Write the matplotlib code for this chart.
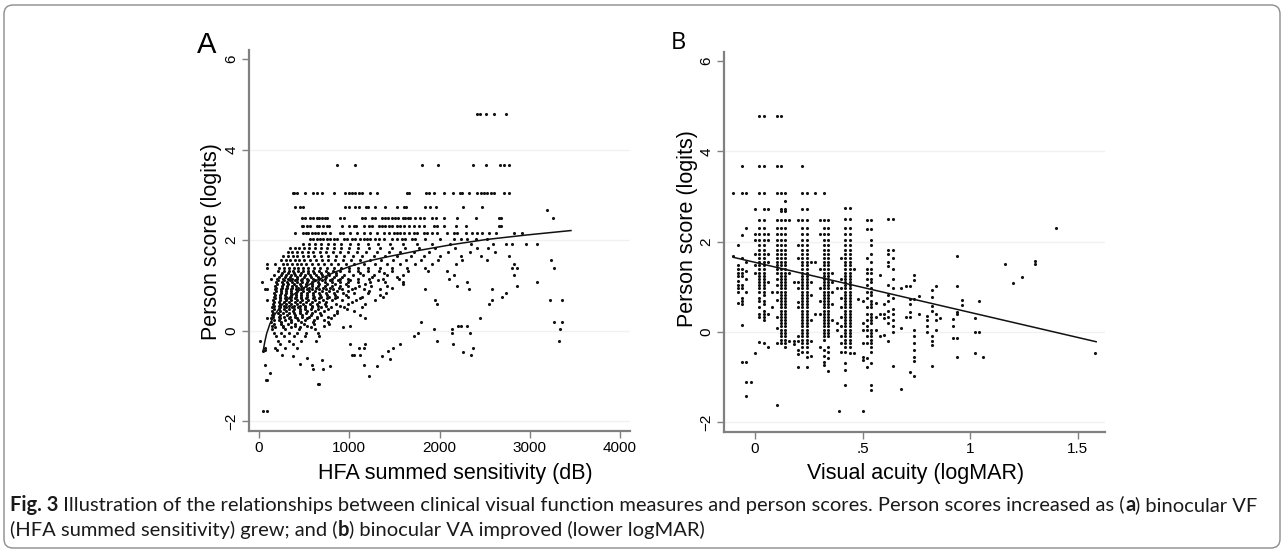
import matplotlib
matplotlib.use("Agg")
import matplotlib.pyplot as plt
from matplotlib.patches import FancyBboxPatch
from matplotlib.transforms import IdentityTransform
from matplotlib.font_manager import FontProperties

W, H = 1285, 552

# ---- panel A: HFA summed sensitivity vs person score ----
# person scores come in discrete levels, each row holds the HFA values seen at that level
hfa_levels = [4.78, 3.65, 3.05, 2.72, 2.48, 2.30, 2.16, 2.03, 1.92, 1.82, 1.73, 1.64, 1.55,
              1.47, 1.39, 1.31, 1.23, 1.15, 1.07, 0.99, 0.91, 0.83, 0.75, 0.67, 0.59, 0.51,
              0.43, 0.35, 0.27, 0.19, 0.11, 0.03, -0.05, -0.13, -0.22, -0.30, -0.38,
              1.27, 1.19, 1.11, 1.03, 0.95, 0.87, 0.79, 0.71, 0.63, 0.55, 0.47, 0.39, 0.31,
              0.23, 0.15, 0.07]
hfa_rows = [
    [2410, 2450, 2520, 2600, 2740],
    [870, 1060, 1810, 1985, 2375, 2510, 2670, 2715, 2770],
    [374, 392, 419, 511, 604, 641, 696, 826, 956, 993, 1030, 1067, 1104, 1141, 1233, 1307,
     1641, 1659, 1852, 1881, 1937, 2055, 2152, 2222, 2252, 2326, 2418, 2456, 2493, 2530,
     2567, 2604, 2715, 2770],
    [400, 456, 485, 956, 993, 1067, 1104, 1189, 1204, 1289, 1400, 1530, 1604, 1630, 1844,
     1900, 1963, 2259, 2474],
    [474, 511, 567, 596, 641, 670, 696, 733, 759, 900, 937, 1141, 1178, 1252, 1289, 1363,
     1400, 1430, 1474, 1511, 1541, 1593, 1622, 1652, 1678, 1733, 1789, 1826, 1919, 1956,
     2048, 2196, 2400, 2659, 2678],
    [474, 493, 530, 567, 641, 670, 707, 752, 778, 919, 993, 1048, 1078, 1159, 1215, 1252,
     1326, 1363, 1400, 1437, 1474, 1530, 1567, 1604, 1659, 1715, 1770, 1826, 1937, 1974,
     2048, 2178, 2289, 2659, 2678],
    [400, 493, 522, 548, 585, 622, 659, 696, 733, 789, 900, 930, 1011, 1085, 1159, 1233,
     1307, 1381, 1437, 1493, 1530, 1567, 1604, 1659, 1715, 1752, 1826, 1863, 1919, 1974,
     2085, 2159, 2196, 2289, 2363, 2419, 2474, 2548, 2622, 2826, 2919],
    [567, 604, 641, 678, 715, 752, 789, 826, 863, 937, 974, 1030, 1067, 1122, 1159, 1196,
     1233, 1289, 1326, 1381, 1474, 1530, 1585, 1622, 1696, 1733, 1844, 2011, 2159, 2233,
     2307, 2400, 2530],
    [493, 556, 617, 690, 761, 836, 913, 1004, 1098, 1206, 1318, 1451, 1598, 1748, 1915,
     2121, 2349, 2590, 2733, 2807, 2956, 3085],
    [344, 398, 445, 502, 556, 622, 689, 758, 833, 911, 1003, 1101, 1214, 1340, 1472, 1617,
     1773, 1953, 2177, 2418, 2533],
    [320, 367, 421, 478, 538, 603, 672, 741, 818, 897, 984, 1081, 1189, 1311, 1437, 1568,
     1721, 1886, 2093, 2338, 2612],
    [270, 318, 372, 425, 489, 548, 615, 690, 768, 852, 940, 1040, 1145, 1270, 1400, 1530,
     1680, 1830, 2010, 2240, 2460, 2770],
    [244, 297, 349, 398, 449, 503, 563, 627, 697, 770, 847, 930, 1019, 1121, 1229, 1352,
     1488, 1630, 1796, 1983, 2246, 2530, 3233],
    [85, 180, 262, 316, 366, 417, 467, 522, 584, 651, 723, 797, 878, 962, 1058, 1166, 1284,
     1414, 1563, 1726, 1920, 2180, 2826],
    [93, 226, 283, 335, 386, 436, 490, 545, 609, 676, 749, 826, 908, 999, 1100, 1210, 1337,
     1479, 1642, 1838, 2807, 2863, 3270],
    [216, 277, 330, 381, 430, 485, 540, 602, 669, 741, 818, 902, 993, 1094, 1207, 1335,
     1477, 1652, 1870, 2085],
    [165, 240, 297, 350, 401, 453, 508, 566, 630, 700, 774, 855, 943, 1041, 1148, 1273,
     1421, 1596, 2159, 2826],
    [130, 198, 263, 318, 370, 422, 476, 533, 594, 661, 734, 812, 897, 991, 1097, 1222, 1370,
     1548, 2104],
    [30, 190, 256, 313, 366, 419, 472, 529, 590, 658, 731, 809, 894, 988, 1098, 1228, 1392,
     1592, 2307, 3085],
    [182, 251, 307, 361, 414, 468, 525, 586, 654, 727, 806, 893, 990, 1104, 1245, 1424,
     2196, 2863],
    [67, 93, 175, 246, 303, 358, 412, 468, 527, 591, 663, 739, 824, 918, 1027, 1161, 1336,
     1844, 2326, 2585],
    [168, 241, 300, 356, 410, 467, 528, 594, 667, 746, 834, 933, 1051, 1204, 1412, 2733],
    [162, 237, 297, 355, 412, 471, 535, 605, 684, 771, 870, 990, 1147, 1369, 2696],
    [85, 157, 234, 296, 357, 417, 479, 547, 623, 708, 807, 924, 1075, 1284, 1948, 2585,
     3222, 3352],
    [152, 231, 296, 359, 423, 490, 562, 643, 737, 849, 990, 1180, 1974, 2548],
    [147, 230, 298, 366, 435, 508, 589, 682, 795, 940, 1142],
    [143, 229, 302, 375, 450, 530, 620, 726, 861, 1050],
    [140, 231, 312, 394, 480, 575, 687, 829, 1122],
    [85, 138, 237, 329, 424, 527, 646, 795, 1178, 2444],
    [137, 248, 355, 468, 597, 760, 1800, 3270, 3352],
    [140, 268, 395, 537, 716, 1011, 2207, 2241, 2300],
    [150, 292, 442, 622, 1937, 2133, 3337],
    [165, 246, 330, 420, 523, 651, 1763, 2141, 2333],
    [186, 283, 390, 510, 667, 1715],
    [11, 215, 330, 470, 633, 1967, 3322],
    [230, 380, 1011, 1178, 1559, 2144],
    [63, 178, 289, 420, 1104, 1159, 1485, 2370],
    # in-between levels of the lower cloud
    [252, 318, 391, 462, 538, 611, 689, 770, 858, 1120, 1390],
    [221, 286, 347, 419, 497, 575, 655, 744, 832, 925, 1250, 1530],
    [208, 275, 339, 405, 470, 541, 617, 703, 786, 877, 1010, 1320],
    [199, 262, 325, 390, 452, 519, 592, 668, 752, 845, 960, 1180, 1600],
    [193, 251, 308, 367, 428, 489, 556, 627, 705, 790, 883, 1065, 1470],
    [186, 243, 302, 359, 421, 483, 550, 619, 695, 777, 870, 985, 1215],
    [179, 236, 292, 350, 409, 470, 535, 603, 677, 758, 846, 960, 1340],
    [174, 230, 285, 343, 401, 462, 525, 594, 668, 749, 838, 1120],
    [170, 226, 281, 338, 395, 456, 520, 588, 661, 741, 1030],
    [167, 221, 277, 334, 392, 452, 515, 583, 657, 738, 900],
    [164, 218, 274, 331, 389, 450, 513, 580, 654, 760, 980],
    [161, 216, 272, 330, 390, 452, 518, 590, 672, 870],
    [160, 217, 277, 340, 404, 474, 551, 640, 760],
    [162, 224, 290, 358, 431, 512, 605, 720],
    [170, 243, 321, 405, 497, 605, 780],
    [180, 265, 358, 460, 580, 930],
]
hfa_extra_x = [41, 63, 196, 252, 381, 530, 456, 585, 604, 696, 715, 789, 1030, 1048, 1122,
               1159, 1215, 1307, 1363, 1426, 1456, 2259, 2352, 67, 122, 80, 93, 48, 93, 650,
               668, 3196, 3252]
hfa_extra_y = [-0.46, -0.44, -0.42, -0.55, -0.57, -0.60, -0.74, -0.76, -0.85, -0.66, -0.85,
               -0.79, -0.55, -0.55, -0.55, -0.77, -1.01, -0.79, -0.57, -0.46, -0.63, -0.48,
               -0.54, -0.77, -0.94, -1.10, -1.10, -1.77, -1.77, -1.18, -1.18, 2.66, 2.48]
hfa_fit_x = [48, 65, 85, 122, 178, 252, 344, 456, 641, 826, 1011, 1196, 1400, 1770, 2141,
             2511, 2956, 3456]
hfa_fit_y = [-0.44, -0.25, -0.07, 0.15, 0.36, 0.56, 0.74, 0.90, 1.11, 1.28, 1.42, 1.53,
             1.62, 1.77, 1.90, 2.01, 2.11, 2.21]

# ---- panel B: visual acuity vs person score ----
# logMAR values are discrete, each column holds the person scores seen at that acuity
va_columns = [-0.10, -0.08, -0.06, -0.04, -0.02, 0.00, 0.02, 0.04, 0.06, 0.08, 0.10, 0.12,
              0.14, 0.16, 0.18, 0.20, 0.22, 0.24, 0.26, 0.28, 0.30, 0.32, 0.34, 0.36, 0.38,
              0.39, 0.40, 0.42, 0.44, 0.46, 0.48, 0.50, 0.52, 0.54, 0.56, 0.58, 0.60, 0.62,
              0.64, 0.68, 0.70, 0.72, 0.74, 0.76, 0.80, 0.82, 0.84, 0.86, 0.92, 0.94, 0.96,
              1.02, 1.04, 1.06, 1.16, 1.20, 1.24, 1.30, 1.40, 1.58]
va_scores = [
    [3.07, 1.68],
    [1.93, 1.49, 1.39, 1.31, 1.24, 1.12, 1.04, 0.96, 0.89, 0.64],
    [3.68, 3.07, 2.15, 1.63, 1.39, 1.31, 1.24, 1.03, 0.96, 0.75, 0.68, 0.61, 0.16, -0.66],
    [3.07, 2.30, 1.55, 1.34, 1.17, 0.89, -0.66, -1.12, -1.43],
    [-1.12],
    [2.73, 2.16, 2.04, 1.72, 1.49, 1.31, -0.47],
    [4.79, 3.68, 3.07, 2.48, 2.30, 2.16, 2.04, 1.93, 1.82, 1.72, 1.63, 1.55, 1.47, 1.39,
     1.31, 1.24, 1.17, 1.10, 1.03, 0.96, 0.89, 0.75, 0.68, 0.54, 0.40, 0.33, -0.22],
    [4.79, 3.68, 3.07, 2.73, 2.48, 2.30, 2.16, 2.04, 1.93, 1.82, 1.72, 1.63, 1.55, 1.47,
     1.39, 1.31, 1.24, 1.17, 1.10, 1.03, 0.96, 0.89, 0.82, 0.68, 0.61, 0.47, 0.40, 0.33,
     0.26, -0.25],
    [2.73, 2.16, 2.04, 1.72, 1.55, 1.10, 0.40, -0.33],
    [0.89, 0.56],
    [4.79, 3.68, 3.07, 2.48, 2.30, 2.16, 2.04, 1.93, 1.82, 1.72, 1.63, 1.55, 1.47, 1.39,
     1.31, 1.17, 1.03, 0.89, 0.71, 0.33, 0.08, -0.25, -1.62],
    [4.79, 3.68, 3.07, 2.73, 2.67, 2.48, 2.30, 2.16, 2.04, 1.93, 1.82, 1.72, 1.63, 1.55,
     1.47, 1.39, 1.31, 1.24, 1.17, 1.10, 1.03, 0.96, 0.89, 0.82, 0.75, 0.68, 0.61, 0.54,
     0.47, 0.40, 0.33, 0.26, 0.19, 0.12, 0.05, -0.02, -0.10, -0.18, -0.25],
    [3.07, 2.89, 2.73, 2.67, 2.48, 2.30, 2.16, 2.04, 1.93, 1.82, 1.72, 1.63, 1.55, 1.47,
     1.39, 1.31, 1.24, 1.17, 1.10, 1.03, 0.96, 0.89, 0.82, 0.75, 0.68, 0.61, 0.54, 0.47,
     0.40, 0.33, 0.26, 0.19, 0.12, 0.05, -0.02, -0.10, -0.18, -0.25, -0.33],
    [2.48, 1.31, -0.21],
    [1.10, -0.21, -0.27],
    [2.48, 1.93, 1.63, 1.10, 0.96, 0.67, 0.54, -0.10, -0.21, -0.40, -0.49, -0.78],
    [3.68, 3.07, 2.73, 2.48, 2.30, 2.16, 2.04, 1.93, 1.82, 1.72, 1.63, 1.55, 1.47, 1.39,
     1.31, 1.24, 1.17, 1.10, 1.03, 0.96, 0.89, 0.82, 0.75, 0.68, 0.61, 0.54, 0.47, 0.40,
     0.33, 0.26, 0.19, 0.12, 0.05, -0.02, -0.10, -0.18, -0.25, -0.33, -0.44],
    [3.07, 2.73, 2.48, 2.30, 2.16, 2.04, 1.93, 1.82, 1.72, 1.63, 1.55, 1.47, 1.39, 1.31,
     1.24, 1.17, 1.10, 1.03, 0.96, 0.89, 0.82, 0.75, 0.68, 0.61, 0.54, 0.47, 0.40, 0.33,
     0.26, 0.19, 0.12, 0.05, -0.02, -0.10, -0.18, -0.25, -0.33, -0.44, -0.55, -0.79],
    [1.55, 1.10, 0.82, 0.26, -0.21, -0.53],
    [3.07, 1.55, 0.40],
    [2.48, 2.16, 1.40, 0.96, 0.68, 0.40, -0.33],
    [3.07, 2.48, 2.30, 2.16, 2.04, 1.93, 1.82, 1.72, 1.63, 1.55, 1.47, 1.39, 1.31, 1.24,
     1.17, 1.10, 1.03, 0.96, 0.89, 0.82, 0.75, 0.68, 0.61, 0.54, 0.47, 0.40, 0.33, 0.26,
     0.19, 0.12, 0.05, -0.02, -0.10, -0.18, -0.40, -0.53, -0.66, -0.73],
    [2.48, 2.30, 2.16, 2.04, 1.93, 1.82, 1.72, 1.63, 1.55, 1.47, 1.39, 1.31, 1.24, 1.17,
     1.10, 1.03, 0.96, 0.89, 0.82, 0.75, 0.68, 0.61, 0.54, 0.47, 0.40, 0.33, 0.26, 0.19,
     0.12, 0.05, -0.02, -0.10, -0.33, -0.44, -0.57, -0.86],
    [1.31, 1.10, 0.89, 0.61, 0.26],
    [0.96, 0.19, 0.05],
    [-1.76],
    [1.63, 1.17, 0.96, 0.75, 0.54, 0.33, 0.12, -0.10, -0.25, -0.44],
    [2.74, 2.50, 2.30, 2.16, 2.04, 1.93, 1.82, 1.72, 1.63, 1.55, 1.47, 1.39, 1.31, 1.24,
     1.17, 1.10, 1.03, 0.96, 0.89, 0.82, 0.75, 0.68, 0.61, 0.54, 0.47, 0.40, 0.33, 0.26,
     0.19, 0.12, 0.05, -0.02, -0.10, -0.18, -0.25, -0.33, -0.44, -0.69, -0.84, -1.18],
    [2.74, 2.50, 2.30, 2.16, 2.04, 1.93, 1.82, 1.72, 1.63, 1.55, 1.47, 1.39, 1.31, 1.24,
     1.17, 1.10, 1.03, 0.96, 0.89, 0.82, 0.75, 0.68, 0.61, 0.54, 0.47, 0.40, 0.33, 0.26,
     0.19, 0.12, 0.05, -0.02, -0.10, -0.18, -0.25, -0.33, -0.47],
    [1.40, -0.47],
    [0.72],
    [0.68, 0.19, 0.05, -0.25, -0.55, -0.62, -1.76],
    [2.48, 2.28, 1.63, 1.40, 1.31, 1.17, 1.03, 0.89, 0.75, 0.54, 0.40, 0.26, 0.12, 0.05,
     -0.10, -0.25, -0.58, -0.77],
    [2.48, 2.28, 2.04, 1.93, 1.72, 1.55, 1.39, 1.31, 1.17, 1.10, 0.96, 0.89, 0.82, 0.68,
     0.61, 0.54, 0.40, 0.33, 0.26, 0.19, 0.05, -0.02, -0.10, -0.18, -0.25, -0.33, -0.44,
     -0.70, -1.18, -1.29],
    [0.64, 0.33, 0.05],
    [1.26, 0.40, -0.10],
    [0.61, 0.40, 0.30, -0.07],
    [2.50, 1.82, 1.72, 1.55, 1.45, 1.04, 0.82, 0.69, 0.47, 0.33, 0.19, -0.20],
    [2.50, 1.82, 1.63, 1.40, 1.17, 0.96, 0.75, 0.50, 0.40, 0.26, 0.12, 0.00, -0.75],
    [0.97, 0.09, -1.26],
    [1.01, 0.33],
    [1.01, 0.72, 0.62, 0.43, 0.33, -0.90],
    [1.26, 1.14, 0.72, 0.05, -0.10, -0.25, -0.40, -0.55, -0.65, -0.98],
    [0.80, 0.40],
    [0.36, 0.26, 0.12, 0.00],
    [0.93, 0.78, 0.57, 0.47, -0.10, -0.20, -0.30, -0.75],
    [1.02, 0.40, 0.26, 0.05],
    [0.30],
    [0.28, 0.13, -0.14],
    [1.69, 1.02, 0.45, 0.40, -0.14, -0.55],
    [0.71, 0.60],
    [0.30, -0.01, -0.47],
    [0.69, 0.00],
    [-0.55],
    [1.50],
    [1.09],
    [1.21],
    [1.57, 1.51],
    [2.30],
    [-0.47],
]
va_fit_x = [-0.10, 1.585]
va_fit_y = [1.65, -0.22]

y_ticks = [-2, 0, 2, 4, 6]
y_tick_labels = ["\u22122", "0", "2", "4", "6"]
hfa_ticks = [0, 1000, 2000, 3000, 4000]
va_ticks = [0, 0.5, 1, 1.5]
va_tick_labels = ["0", ".5", "1", "1.5"]

caption_line1 = [("Fig. 3", "bold"),
                 (" Illustration of the relationships between clinical visual function measures "
                  "and person scores. Person scores increased as (", "normal"),
                 ("a", "bold"), (") binocular VF", "normal")]
caption_line2 = [("(HFA summed sensitivity) grew; and (", "normal"), ("b", "bold"),
                 (") binocular VA improved (lower logMAR)", "normal")]

AX_FONT = "Liberation Sans"
DOT = "#111111"
AXIS_GREY = "#808080"

fig = plt.figure(figsize=(W / 100, H / 100), dpi=100)


def px_axes(left, top, right, bottom):
    return fig.add_axes([left / W, 1 - bottom / H, (right - left) / W, (bottom - top) / H])


def fig_text(x, y, s, **kw):
    return fig.text(x / W, 1 - y / H, s, **kw)


def style_axes(ax, xlim, xticks, xlabels):
    ax.set_xlim(xlim)
    ax.set_ylim(-2.22, 6.2)
    for side in ["top", "right"]:
        ax.spines[side].set_visible(False)
    for side in ["left", "bottom"]:
        ax.spines[side].set_color(AXIS_GREY)
        ax.spines[side].set_linewidth(1.6)
    for v in [-2, 0, 2, 4]:
        ax.axhline(v, color="#f1f1f1", lw=1.0, zorder=0)
    ax.set_yticks(y_ticks)
    ax.set_yticklabels(y_tick_labels, rotation=90, va="center", family=AX_FONT, fontsize=11)
    ax.set_xticks(xticks)
    ax.set_xticklabels(xlabels, family=AX_FONT, fontsize=11)
    ax.tick_params(axis="both", color=AXIS_GREY, length=5, width=1.0)
    ax.tick_params(axis="y", pad=2.5)
    ax.tick_params(axis="x", pad=2.5)
    ax.set_facecolor("none")


# panel A
axA = px_axes(249, 50, 630, 431)
ax_x, ax_y = [], []
for lvl, row in zip(hfa_levels, hfa_rows):
    ax_x += row
    ax_y += [lvl] * len(row)
ax_x += hfa_extra_x
ax_y += hfa_extra_y
axA.scatter(ax_x, ax_y, s=5, c=DOT, linewidths=0, zorder=3)
axA.plot(hfa_fit_x, hfa_fit_y, color="#111111", lw=1.1, zorder=4)
style_axes(axA, (-110, 4110), hfa_ticks, [str(t) for t in hfa_ticks])

# panel B
axB = px_axes(724, 52, 1105, 432)
bx, by = [], []
for col, scores in zip(va_columns, va_scores):
    bx += [col] * len(scores)
    by += scores
axB.scatter(bx, by, s=5, c=DOT, linewidths=0, zorder=3)
axB.plot(va_fit_x, va_fit_y, color="#111111", lw=1.1, zorder=4)
style_axes(axB, (-0.144, 1.626), va_ticks, va_tick_labels)

# axis titles
lab = dict(family=AX_FONT, fontsize=15.5, rotation_mode="anchor")
fig_text(217, 241.5, "Person score (logits)", rotation=90, ha="center", va="baseline", **lab)
fig_text(692.5, 229, "Person score (logits)", rotation=90, ha="center", va="baseline", **lab)
fig_text(455, 478.5, "HFA summed sensitivity (dB)", ha="center", va="baseline", **lab)
fig_text(915.5, 478.5, "Visual acuity (logMAR)", ha="center", va="baseline", **lab)

# panel letters
fig_text(197, 53, "A", family=AX_FONT, fontsize=21, va="baseline", ha="left")
fig_text(671, 49, "B", family="Open Sans", fontsize=17, va="baseline", ha="left")

# caption with bold parts, placed piece by piece
renderer = fig.canvas.get_renderer()
CAP_FONT = "Lato"


def advance(s, weight, size):
    prop = FontProperties(family=CAP_FONT, weight=weight, size=size)
    w1, _, _ = renderer.get_text_width_height_descent("|" + s + "|", prop, ismath=False)
    w0, _, _ = renderer.get_text_width_height_descent("||", prop, ismath=False)
    return w1 - w0


def caption_line(parts, x0, y, size):
    x = x0
    for s, weight in parts:
        fig_text(x, y, s, family=CAP_FONT, fontweight=weight, fontsize=size,
                 va="baseline", ha="left", color="#1a1a1a")
        x += advance(s, weight, size)
    return x


cap_size = 12.0
span = sum(advance(s, w, cap_size) for s, w in caption_line1)
cap_size = cap_size * (1255 - 10) / span
caption_line(caption_line1, 10, 511, cap_size)
caption_line(caption_line2, 10, 536, cap_size)

# rounded frame round the whole figure
frame = FancyBboxPatch((4, 4), W - 9, H - 9, boxstyle="round,pad=0,rounding_size=9",
                       transform=IdentityTransform(), fill=False, edgecolor="#8c8c8c", lw=1.0)
fig.patches.append(frame)

fig.savefig("out.png", dpi=100)
